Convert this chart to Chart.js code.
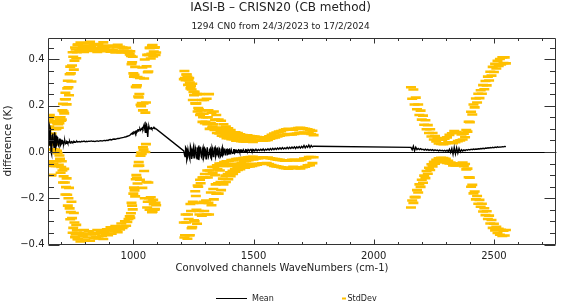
<!DOCTYPE html>
<html>
<head>
<meta charset="utf-8">
<script src="https://cdn.jsdelivr.net/npm/chart.js@4/dist/chart.umd.min.js"></script>
<style>
html,body{margin:0;padding:0;background:#fff;}
#wrap{width:564px;height:303px;position:relative;}
</style>
</head>
<body>
<div id="wrap"><canvas id="c" width="564" height="303"></canvas></div>
<script>
// ---------------- DATA ----------------
const titleText = 'IASI-B \u2013 CRISN20 (CB method)';
const subtitleText = '1294 CN0 from 24/3/2023 to 17/2/2024';
const xAxisTitle = 'Convolved channels WaveNumbers (cm-1)';
const yAxisTitle = 'difference (K)';
const seriesNames = ['Mean', 'StdDev'];

const xMajorTicks = [1000, 1500, 2000, 2500];
const xMinorTicks = [700, 800, 900, 1100, 1200, 1300, 1400, 1600, 1700, 1800, 1900, 2100, 2200, 2300, 2400, 2600, 2700];
const yMajorTicks = [-0.4, -0.2, 0, 0.2, 0.4];
const yMinorTicks = [-0.35, -0.3, -0.25, -0.15, -0.1, -0.05, 0.05, 0.1, 0.15, 0.25, 0.3, 0.35, 0.45];

// Long-wave band
const lwWavenumbers = [
 645,650,655,660,665,670,675,680,685,690,
 695,700,705,710,715,720,725,730,735,740,
 745,750,755,760,765,770,775,780,785,790,
 795,800,805,810,815,820,825,830,835,840,
 845,850,855,860,865,870,875,880,885,890,
 895,900,905,910,915,920,925,930,935,940,
 945,950,955,960,965,970,975,980,985,990,
 995,1000,1005,1010,1015,1020,1025,1030,1035,1040,
 1045,1050,1055,1060,1065,1070,1075,1080,1085,1090,
 1095];
const lwMean = [
 0.09,0.03,0.10,-0.01,0.08,0.02,0.07,0.03,0.06,0.025,
 0.055,0.035,0.05,0.035,0.048,0.038,0.045,0.04,0.046,0.04,
 0.044,0.042,0.045,0.043,0.046,0.044,0.045,0.043,0.046,0.045,
 0.047,0.044,0.046,0.045,0.047,0.046,0.048,0.046,0.047,0.045,
 0.047,0.048,0.046,0.048,0.049,0.047,0.049,0.05,0.049,0.051,
 0.05,0.053,0.054,0.052,0.055,0.056,0.055,0.057,0.058,0.058,
 0.06,0.061,0.062,0.063,0.065,0.066,0.068,0.07,0.072,0.075,
 0.078,0.08,0.084,0.082,0.088,0.09,0.096,0.094,0.102,0.1,
 0.118,0.085,0.12,0.065,0.11,0.1,0.105,0.102,0.104,0.103,
 0.1];
const lwStd = [
 0.06,0.08,0.05,0.09,0.07,0.08,0.06,0.07,0.065,0.08,
 0.085,0.1,0.13,0.14,0.18,0.19,0.23,0.24,0.29,0.3,
 0.33,0.37,0.35,0.4,0.385,0.42,0.395,0.43,0.4,0.41,
 0.385,0.425,0.4,0.415,0.39,0.43,0.405,0.395,0.42,0.4,
 0.415,0.385,0.42,0.4,0.39,0.41,0.425,0.395,0.405,0.385,
 0.41,0.39,0.38,0.405,0.385,0.4,0.375,0.395,0.405,0.38,
 0.395,0.37,0.39,0.385,0.365,0.385,0.37,0.36,0.35,0.34,
 0.31,0.26,0.25,0.2,0.2,0.15,0.155,0.11,0.11,0.08,
 0.2,0.085,0.25,0.28,0.31,0.35,0.32,0.36,0.33,0.35,
 0.33];
// extra long-wave channels (in-between wavenumbers)
const lwExtraWavenumbers = [
 647.5,652.5,657.5,662.5,667.5,672.5,677.5,682.5,687.5,692.5,
 697.5,702.5,707.5,712.5,717.5,722.5,727.5,732.5,737.5,742.5,
 747.5,752.5,757.5,762.5,767.5,
 987.5,992.5,997.5,1002.5,1007.5,1012.5,1017.5,1022.5,1027.5,1032.5,
 1037.5,1042.5,1047.5,1052.5,1057.5,1062.5,1067.5,1072.5,1077.5,1082.5,
 1087.5,1092.5];
const lwExtraMean = [
 0.05,0.11,0.0,0.07,0.04,0.085,0.02,0.065,0.03,0.055,
 0.03,0.05,0.038,0.047,0.036,0.046,0.038,0.045,0.039,0.045,
 0.041,0.046,0.042,0.045,0.043,
 0.075,0.08,0.082,0.086,0.088,0.09,0.094,0.096,0.1,0.098,
 0.105,0.11,0.1,0.124,0.09,0.108,0.1,0.104,0.1,0.103,
 0.101,0.1];
const lwExtraStd = [
 0.09,0.05,0.1,0.06,0.09,0.05,0.08,0.06,0.09,0.07,
 0.12,0.09,0.17,0.12,0.22,0.16,0.27,0.2,0.33,0.26,
 0.39,0.31,0.41,0.36,0.42,
 0.36,0.3,0.33,0.24,0.28,0.19,0.23,0.14,0.22,0.1,
 0.26,0.1,0.3,0.09,0.33,0.24,0.35,0.3,0.36,0.31,
 0.35,0.32];

// Mid-wave band
const mwWavenumbers = [
 1210,1215,1220,1225,1230,1235,1240,1245,1250,1255,
 1260,1265,1270,1275,1280,1285,1290,1295,1300,1305,
 1310,1315,1320,1325,1330,1335,1340,1345,1350,1355,
 1360,1365,1370,1375,1380,1385,1390,1395,1400,1405,
 1410,1415,1420,1425,1430,1435,1440,1445,1450,1455,
 1460,1465,1470,1475,1480,1485,1490,1495,1500,1505,
 1510,1515,1520,1525,1530,1535,1540,1545,1550,1555,
 1560,1565,1570,1575,1580,1585,1590,1595,1600,1605,
 1610,1615,1620,1625,1630,1635,1640,1645,1650,1655,
 1660,1665,1670,1675,1680,1685,1690,1695,1700,1705,
 1710,1715,1720,1725,1730,1735,1740,1745,1750];
const mwMean = [
 0.005,-0.02,0.015,-0.025,0.01,-0.03,0.015,-0.015,0.02,-0.02,
 0.01,-0.03,0.02,-0.01,0.015,-0.025,0.02,-0.015,0.01,-0.02,
 0.02,-0.01,0.015,-0.03,0.01,-0.015,0.02,-0.01,0.015,-0.02,
 0.01,-0.015,0.02,-0.01,0.015,-0.01,0.012,-0.008,0.012,-0.005,
 0.01,-0.005,0.01,0.0,0.008,0.002,0.009,0.001,0.008,0.003,
 0.01,0.002,0.009,0.004,0.01,0.003,0.011,0.004,0.01,0.005,
 0.012,0.005,0.011,0.006,0.012,0.007,0.013,0.006,0.012,0.008,
 0.014,0.008,0.015,0.009,0.016,0.01,0.016,0.011,0.017,0.012,
 0.018,0.012,0.019,0.013,0.018,0.014,0.02,0.014,0.02,0.015,
 0.021,0.016,0.022,0.015,0.022,0.017,0.023,0.017,0.024,0.018,
 0.028,0.018,0.026,0.02,0.03,0.019,0.028,0.022,0.025];
const mwStd = [
 0.31,0.34,0.32,0.35,0.3,0.33,0.27,0.31,0.24,0.28,
 0.2,0.28,0.17,0.26,0.15,0.25,0.13,0.24,0.12,0.25,
 0.13,0.26,0.11,0.2,0.1,0.19,0.12,0.17,0.09,0.16,
 0.09,0.15,0.08,0.13,0.075,0.12,0.07,0.11,0.065,0.1,
 0.07,0.09,0.065,0.085,0.06,0.08,0.06,0.075,0.055,0.07,
 0.05,0.07,0.048,0.068,0.045,0.066,0.042,0.064,0.042,0.062,
 0.04,0.06,0.038,0.058,0.037,0.056,0.036,0.055,0.038,0.056,
 0.038,0.06,0.042,0.065,0.045,0.07,0.047,0.073,0.05,0.076,
 0.052,0.078,0.055,0.082,0.056,0.084,0.058,0.086,0.056,0.082,
 0.055,0.08,0.056,0.085,0.058,0.086,0.06,0.088,0.058,0.084,
 0.056,0.082,0.054,0.078,0.052,0.076,0.05,0.07,0.048];
// extra mid-wave channels (in-between wavenumbers)
const mwExtraWavenumbers = [
 1212.5,1217.5,1222.5,1227.5,1232.5,1237.5,1242.5,1247.5,
 1252.5,1257.5,1262.5,1267.5,1272.5,1277.5,1282.5,1287.5,
 1292.5,1297.5,1302.5,1307.5,1312.5,1317.5,1322.5,1327.5,
 1332.5,1337.5,1342.5,1347.5,1352.5,1357.5,1362.5,1367.5,
 1372.5,1377.5,1382.5,1387.5,1392.5,1397.5,1402.5,1407.5,
 1412.5,1417.5,1422.5,1427.5,1432.5,1437.5,1442.5,1447.5,
 1452.5,1457.5,1462.5,1467.5,1472.5,1477.5,1482.5,1487.5,
 1492.5,1497.5];
const mwExtraMean = [
 -0.01,0.02,-0.035,0.01,-0.02,0.025,-0.03,0.005,
 -0.025,0.02,-0.02,0.015,-0.035,0.02,-0.02,0.01,
 -0.025,0.015,-0.03,0.02,-0.02,0.01,-0.025,0.02,
 -0.02,0.015,-0.02,0.012,-0.015,0.015,-0.02,0.01,
 -0.015,0.012,-0.012,0.01,-0.01,0.01,-0.008,0.01,
 -0.006,0.01,-0.004,0.009,-0.002,0.01,0.0,0.009,
 0.001,0.01,0.002,0.01,0.003,0.011,0.003,0.011,
 0.004,0.011];
const mwExtraStd = [
 0.36,0.29,0.37,0.28,0.34,0.25,0.3,0.22,
 0.27,0.19,0.23,0.16,0.22,0.14,0.2,0.12,
 0.19,0.11,0.18,0.1,0.2,0.09,0.15,0.085,
 0.14,0.08,0.12,0.07,0.12,0.065,0.11,0.06,
 0.1,0.055,0.09,0.05,0.085,0.05,0.08,0.045,
 0.075,0.045,0.07,0.04,0.068,0.04,0.065,0.038,
 0.062,0.036,0.06,0.035,0.058,0.034,0.056,0.033,
 0.055,0.032];

// Short-wave band
const swWavenumbers = [
 2155,2160,2165,2170,2175,2180,2185,2190,2195,2200,
 2205,2210,2215,2220,2225,2230,2235,2240,2245,2250,
 2255,2260,2265,2270,2275,2280,2285,2290,2295,2300,
 2305,2310,2315,2320,2325,2330,2335,2340,2345,2350,
 2355,2360,2365,2370,2375,2380,2385,2390,2395,2400,
 2405,2410,2415,2420,2425,2430,2435,2440,2445,2450,
 2455,2460,2465,2470,2475,2480,2485,2490,2495,2500,
 2505,2510,2515,2520,2525,2530,2535,2540,2545,2550];
const swMean = [
 0.02,0.01,0.025,0.005,0.02,0.01,0.015,0.01,0.014,0.01,
 0.012,0.008,0.012,0.008,0.011,0.007,0.01,0.007,0.01,0.006,
 0.009,0.006,0.008,0.005,0.008,0.005,0.007,0.004,0.007,0.004,
 0.008,0.002,0.012,-0.002,0.015,-0.01,0.02,-0.008,0.018,-0.005,
 0.015,0.0,0.01,0.004,0.009,0.006,0.01,0.008,0.011,0.009,
 0.012,0.01,0.013,0.011,0.013,0.012,0.014,0.013,0.015,0.014,
 0.016,0.014,0.017,0.016,0.018,0.017,0.019,0.018,0.02,0.018,
 0.021,0.019,0.022,0.02,0.022,0.021,0.023,0.022,0.024,0.023];
const swStd = [
 0.26,0.22,0.245,0.2,0.215,0.175,0.19,0.15,0.165,0.13,
 0.145,0.11,0.125,0.09,0.105,0.075,0.088,0.06,0.072,0.048,
 0.06,0.04,0.052,0.032,0.048,0.03,0.046,0.03,0.05,0.034,
 0.055,0.04,0.062,0.044,0.066,0.048,0.07,0.05,0.068,0.052,
 0.068,0.05,0.066,0.05,0.07,0.058,0.085,0.08,0.12,0.12,
 0.162,0.152,0.192,0.182,0.218,0.202,0.238,0.22,0.252,0.238,
 0.273,0.257,0.29,0.272,0.308,0.292,0.328,0.312,0.348,0.328,
 0.36,0.342,0.372,0.352,0.38,0.357,0.386,0.362,0.385,0.36];

// ---------------- BUILD ----------------
const allWn = [].concat(lwWavenumbers, lwExtraWavenumbers, mwWavenumbers, mwExtraWavenumbers, swWavenumbers);
const allMean = [].concat(lwMean, lwExtraMean, mwMean, mwExtraMean, swMean);
const allStd = [].concat(lwStd, lwExtraStd, mwStd, mwExtraStd, swStd);
const n = Math.min(allWn.length, allMean.length, allStd.length);
const idx = [];
for (let i = 0; i < n; i++) idx.push(i);
idx.sort((a, b) => allWn[a] - allWn[b]);

const meanPts = [], upperPts = [], lowerPts = [];
idx.forEach(i => {
  meanPts.push({x: allWn[i], y: allMean[i]});
  upperPts.push({x: allWn[i], y: allMean[i] + allStd[i]});
  lowerPts.push({x: allWn[i], y: allMean[i] - allStd[i]});
});

const ORANGE = 'rgb(255,192,0)';
const AXIS = '#333';
const TXT = '#222';
const FONT = 'DejaVu Sans';

const framePlugin = {
  id: 'frame',
  beforeDatasetsDraw(chart) {
    const {ctx, chartArea: a, scales: {y}} = chart;
    ctx.save();
    ctx.strokeStyle = '#000';
    ctx.lineWidth = 1;
    const y0 = Math.round(y.getPixelForValue(0)) + 0.5;
    ctx.beginPath(); ctx.moveTo(a.left, y0); ctx.lineTo(a.right, y0); ctx.stroke();
    ctx.restore();
  },
  afterDatasetsDraw(chart) {
    const {ctx, chartArea: a, scales: {x, y}} = chart;
    ctx.save();
    ctx.strokeStyle = AXIS;
    ctx.lineWidth = 1;
    const L = Math.round(a.left) + 0.5, R = Math.round(a.right) - 0.5;
    const T = Math.round(a.top) + 0.5, B = Math.round(a.bottom) - 0.5;
    ctx.beginPath();
    ctx.rect(L, T, R - L, B - T);
    ctx.stroke();
    ctx.beginPath();
    const xt = (vals, len) => vals.forEach(v => {
      const px = Math.round(x.getPixelForValue(v)) + 0.5;
      ctx.moveTo(px, B); ctx.lineTo(px, B - len);
      ctx.moveTo(px, T); ctx.lineTo(px, T + len);
    });
    const yt = (vals, len) => vals.forEach(v => {
      const py = Math.round(y.getPixelForValue(v)) + 0.5;
      ctx.moveTo(L, py); ctx.lineTo(L + len, py);
      ctx.moveTo(R, py); ctx.lineTo(R - len, py);
    });
    xt(xMajorTicks, 5); xt(xMinorTicks, 2.5);
    yt(yMajorTicks, 11); yt(yMinorTicks, 5.5);
    ctx.stroke();
    ctx.restore();
  },
  afterDraw(chart) {
    const {ctx} = chart;
    ctx.save();
    ctx.fillStyle = TXT;
    ctx.font = '10px "' + FONT + '"';
    ctx.textAlign = 'center';
    ctx.textBaseline = 'middle';
    ctx.fillText(xAxisTitle, 282, 268.5);
    const ly = 298.5;
    ctx.strokeStyle = '#000';
    ctx.lineWidth = 1;
    ctx.beginPath(); ctx.moveTo(216, ly); ctx.lineTo(247, ly); ctx.stroke();
    ctx.strokeStyle = ORANGE;
    ctx.lineWidth = 2;
    ctx.beginPath(); ctx.moveTo(342, ly); ctx.lineTo(346, ly); ctx.stroke();
    ctx.font = '8px "' + FONT + '"';
    ctx.textAlign = 'left';
    ctx.fillText(seriesNames[0], 252, ly);
    ctx.fillText(seriesNames[1], 347.5, ly);
    ctx.restore();
  }
};

new Chart(document.getElementById('c'), {
  data: {
    datasets: [
      {type: 'line', label: seriesNames[0], data: meanPts, borderColor: '#000', borderWidth: 1.4,
       pointRadius: 0, tension: 0, fill: false, order: 0},
      {type: 'scatter', label: seriesNames[1], data: upperPts, pointStyle: 'line', pointRadius: 5,
       borderColor: ORANGE, backgroundColor: ORANGE, pointBorderWidth: 2.6, borderWidth: 2.6, order: 1},
      {type: 'scatter', label: seriesNames[1], data: lowerPts, pointStyle: 'line', pointRadius: 5,
       borderColor: ORANGE, backgroundColor: ORANGE, pointBorderWidth: 2.6, borderWidth: 2.6, order: 1}
    ]
  },
  options: {
    responsive: false,
    animation: false,
    devicePixelRatio: 1,
    events: [],
    layout: {padding: {left: 0, right: 3, top: 0, bottom: 0}},
    plugins: {
      legend: {display: false},
      tooltip: {enabled: false},
      title: {display: true, text: titleText, color: TXT,
        font: {family: FONT, size: 12, weight: 'normal', lineHeight: 1.2},
        padding: {top: 0.5, bottom: 5.5}},
      subtitle: {display: true, text: subtitleText, color: TXT,
        font: {family: FONT, size: 9, weight: 'normal', lineHeight: 1.2},
        padding: {top: 1.2, bottom: 5.1}}
    },
    scales: {
      x: {
        type: 'linear', min: 645, max: 2760,
        afterBuildTicks: s => { s.ticks = xMajorTicks.map(v => ({value: v})); },
        afterFit: s => { s.height = 58.5; },
        grid: {display: false, drawTicks: false},
        border: {display: false},
        ticks: {autoSkip: false, maxRotation: 0, padding: 6, color: TXT,
          font: {family: FONT, size: 10}, callback: v => String(v)}
      },
      y: {
        type: 'linear', min: -0.4, max: 0.495,
        afterBuildTicks: s => { s.ticks = yMajorTicks.map(v => ({value: v})); },
        afterFit: s => { s.width = 48; },
        grid: {display: false, drawTicks: false},
        border: {display: false},
        ticks: {autoSkip: false, padding: 3.5, color: TXT,
          font: {family: FONT, size: 10},
          callback: v => (v < 0 ? '\u2212' : '') + Math.abs(v).toFixed(1)},
        title: {display: true, text: yAxisTitle, color: TXT,
          font: {family: FONT, size: 10.5}, padding: {top: 1.5, bottom: 0}}
      }
    }
  },
  plugins: [framePlugin]
});
</script>
</body>
</html>
